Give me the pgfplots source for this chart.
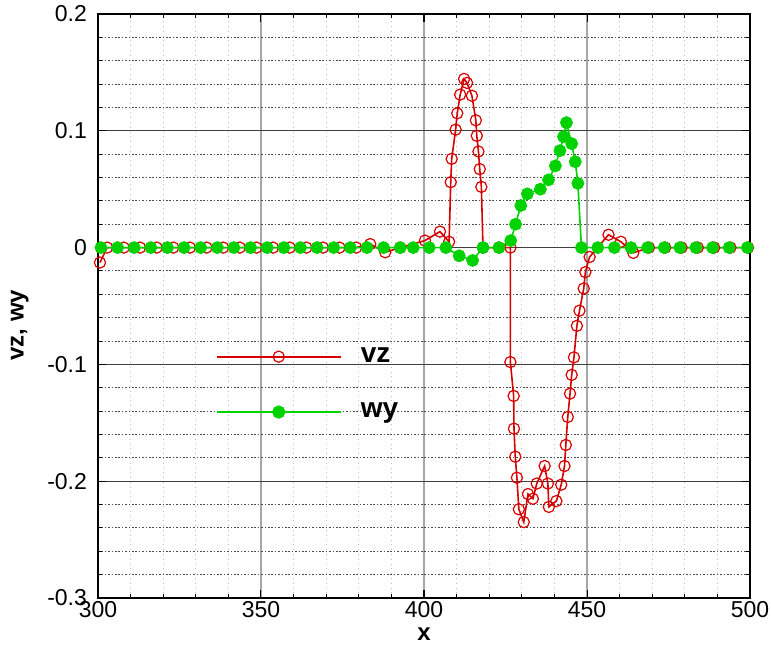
\documentclass[border=0pt]{standalone}
\usepackage{pgfplots}
\pgfplotsset{compat=1.18}
\usepackage{fontspec}
\setmainfont{Liberation Sans}
\definecolor{tred}{RGB}{214,0,0}
\definecolor{tgreen}{RGB}{0,210,0}
\begin{document}
\begin{tikzpicture}
\begin{axis}[
  scale only axis,
  width=326pt, height=292pt,
  xmin=300, xmax=500, ymin=-0.3, ymax=0.2,
  xtick={300,350,400,450,500},
  ytick={-0.3,-0.2,-0.1,0,0.1,0.2},
  yticklabels={-0.3,-0.2,-0.1,0,0.1,0.2},
  minor x tick num=4, minor y tick num=4,
  tick align=inside,
  major tick length=4pt, minor tick length=2pt,
  tick style={black, line width=0.5pt},
  grid=both,
  major x grid style={gray!70, line width=0.6pt},
  major y grid style={black!75, line width=0.5pt},
  minor x grid style={black!25, dotted, line width=0.5pt},
  minor y grid style={black!70, dash pattern=on 0.8pt off 0.9pt, line width=0.5pt},
  axis line style={black, line width=0.8pt},
  /pgf/number format/assume math mode=true,
  ticklabel style={font=\fontsize{11.5}{13}\selectfont},
  yticklabel style={xshift=-2pt},
  xticklabel style={yshift=2pt},
  xlabel={\textbf{x}}, ylabel={\textbf{vz, wy}},
  xlabel style={font=\fontsize{12}{14}\selectfont, at={(axis description cs:0.5,0)}, anchor=center, yshift=-18pt},
  ylabel style={font=\fontsize{12}{14}\selectfont, at={(axis description cs:-0.12,0.467)}, anchor=center},
  legend style={at={(axis cs:336,-0.082)}, anchor=north west, draw=none, fill=none,
    font=\fontsize{14}{16}\selectfont\bfseries, row sep=14.8pt, column sep=7.5pt, inner sep=0pt,
    legend cell align=left},
  legend image code/.code={\draw[mark repeat=2,mark phase=2,line width=1pt] plot coordinates {(0pt,0pt)(31pt,0pt)(62pt,0pt)};},
]
\coordinate (bl) at (rel axis cs:0,0);
\coordinate (tr) at (rel axis cs:1,1);
\addplot[color=tred, line width=0.8pt, mark=o, mark size=2.8pt, mark options={solid, line width=0.6pt}] coordinates {
(300.6,-0.0128) (302.8,0) (307.9,0) (312.9,0) (318.0,0) (323.1,0) (328.2,0) (333.3,0)
(338.4,0) (343.5,0) (348.6,0) (353.7,0) (358.8,0) (363.9,0) (369.0,0) (374.1,0) (379.2,0)
(383.5,0.003) (388.1,-0.004) (392.7,0) (400.3,0.006) (404.9,0.0137) (407.7,0.005)
(408.2,0.056) (408.5,0.076) (409.7,0.101) (410.2,0.115) (411.1,0.131) (412.3,0.1444)
(413.2,0.141) (414.7,0.130) (415.9,0.109) (416.2,0.0957) (416.7,0.0823) (417.1,0.0672)
(417.6,0.052) (418.1,0) (423.0,0) (426.5,0)
(426.5,-0.098) (427.5,-0.127) (427.6,-0.155) (428.0,-0.179) (428.5,-0.197) (429.1,-0.224)
(430.6,-0.235) (431.9,-0.211) (433.4,-0.215) (434.6,-0.202) (437.0,-0.187) (438.0,-0.202)
(438.3,-0.222) (440.6,-0.217) (442.1,-0.203) (443.1,-0.187) (443.5,-0.169) (444.1,-0.145)
(444.8,-0.125) (445.3,-0.109) (446.0,-0.094) (446.9,-0.067) (447.7,-0.054) (449.0,-0.035)
(449.5,-0.021) (450.8,-0.008) (456.6,0.011) (460.4,0.005) (464.2,-0.0045) (469.0,0)
(474.0,0) (479.0,0) (484.0,0) (489.0,0) (494.0,0) (499.4,0)
};
\addlegendentry{vz}
\addplot[color=tgreen, line width=0.8pt, mark=*, mark size=2.8pt, mark options={solid}] coordinates {
(300.9,0) (306.0,0) (311.1,0) (316.2,0) (321.3,0) (326.4,0) (331.5,0) (336.6,0) (341.7,0)
(346.8,0) (351.9,0) (357.0,0) (362.1,0) (367.2,0) (372.3,0) (377.4,0) (382.5,0) (387.6,0)
(392.7,0) (396.7,0) (401.6,0) (406.7,0) (410.8,-0.007) (414.9,-0.011) (418.1,0) (423.0,0)
(426.6,0.006) (428.1,0.020) (429.7,0.036) (431.7,0.046) (435.7,0.050) (438.2,0.058)
(440.3,0.070) (441.7,0.083) (442.8,0.095) (443.7,0.107) (445.3,0.089) (446.4,0.0735)
(447.2,0.055) (448.3,0) (453.3,0) (458.4,0) (463.5,0) (468.6,0) (473.7,0) (478.5,0)
(483.4,0) (488.5,0) (493.6,0) (499.2,0)
};
\addlegendentry{wy}
\end{axis}
\pgfresetboundingbox
\path ([shift={(-49pt,-25.5pt)}]bl) rectangle ([shift={(10.5pt,7pt)}]tr);
\end{tikzpicture}
\end{document}
